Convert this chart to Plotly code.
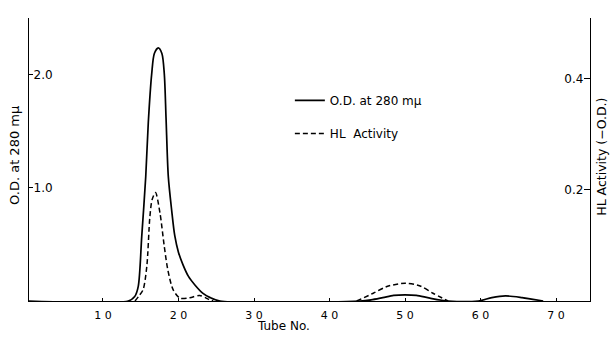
import plotly.graph_objects as go

# Optical density at 280 mμ (left axis)
od_tube = [0.2, 13.35, 14.2, 14.67, 15.13, 15.66, 16.0, 16.45, 16.8, 17.32, 17.8, 18.12, 18.35,
           18.65, 19.1, 19.5, 20.0, 20.6, 21.3, 22.2, 23.2, 24.2, 25.5, 44.0, 45.5, 47.06,
           48.5, 50.0, 51.5, 53.3, 55.7, 59.7, 61.5, 63.3, 65.5, 68.3]
od_val = [0, 0, 0.04, 0.13, 0.57, 1.10, 1.58, 2.01, 2.19, 2.24, 2.19, 2.01, 1.62,
          1.10, 0.80, 0.58, 0.43, 0.32, 0.22, 0.14, 0.07, 0.03, 0, 0, 0.01, 0.03,
          0.05, 0.055, 0.05, 0.025, 0, 0, 0.03, 0.045, 0.03, 0]

# HL activity (-O.D.) (right axis)
hl_tube = [14.24, 14.7, 15.3, 15.8, 16.2, 16.5, 16.95, 17.55, 18.1, 18.6, 19.3, 20.2,
           21.5, 22.8, 24.0, 24.6, None, 43.6, 45.8, 47.6, 50.0, 52.0, 53.7, 55.7]
hl_val = [0, 0.008, 0.02, 0.062, 0.15, 0.182, 0.195, 0.158, 0.10, 0.055, 0.02, 0.005,
          0.006, 0.01, 0.003, 0, None, 0, 0.014, 0.026, 0.032, 0.027, 0.014, 0]

x_ticks = [10, 20, 30, 40, 50, 60, 70]
x_ticktext = ["1 0", "2 0", "3 0", "4 0", "5 0", "6 0", "7 0"]
y_ticks = [1.0, 2.0]
y_ticktext = ["1.0", "2.0"]
y2_ticks = [0.2, 0.4]
y2_ticktext = ["0.2", "0.4"]

FONT = "DejaVu Sans"
BLACK = "black"

fig = go.Figure()
fig.add_trace(go.Scatter(
    x=od_tube, y=od_val, mode="lines", name="O.D. at 280 mμ",
    line=dict(color=BLACK, width=1.7, shape="spline", smoothing=0.8),
    legendgroup="a", yaxis="y"))
fig.add_trace(go.Scatter(
    x=hl_tube, y=hl_val, mode="lines", name="HL  Activity",
    line=dict(color=BLACK, width=1.5, dash="5px,3px", shape="spline", smoothing=0.8),
    legendgroup="b", yaxis="y2", connectgaps=False))

fig.update_layout(
    width=616, height=341,
    margin=dict(l=29, r=26, t=18, b=40),
    paper_bgcolor="white", plot_bgcolor="white",
    font=dict(family=FONT, size=11, color=BLACK),
    showlegend=True,
    legend=dict(x=0.465, y=0.76, xanchor="left", yanchor="top",
                font=dict(size=12, family=FONT, color=BLACK), tracegroupgap=14,
                bgcolor="rgba(0,0,0,0)"),
    xaxis=dict(range=[0.2, 74.5], tickvals=x_ticks, ticktext=x_ticktext,
               ticks="inside", ticklen=3, tickcolor=BLACK, showgrid=False,
               zeroline=False, showline=True, linecolor=BLACK, linewidth=1,
               ticklabelstandoff=4,
               tickfont=dict(size=11, color=BLACK)),
    yaxis=dict(range=[0, 2.504], tickvals=y_ticks, ticktext=y_ticktext,
               ticks="inside", ticklen=4, tickcolor=BLACK, showgrid=False,
               zeroline=False, showline=True, linecolor=BLACK, linewidth=1,
               ticklabelposition="inside", tickfont=dict(size=12, color=BLACK)),
    yaxis2=dict(range=[0, 0.509], tickvals=y2_ticks, ticktext=y2_ticktext,
                overlaying="y", side="right",
                ticks="inside", ticklen=6, tickcolor=BLACK, showgrid=False,
                zeroline=False, showline=True, linecolor=BLACK, linewidth=1,
                ticklabelposition="inside", tickfont=dict(size=12, color=BLACK)),
    annotations=[
        dict(text="O.D. at 280 mμ", x=-0.025, y=0.516, xref="paper", yref="paper",
             xanchor="center", yanchor="middle",
             textangle=-90, showarrow=False, font=dict(size=13, color=BLACK)),
        dict(text="HL Activity (−O.D.)", x=1.021, y=0.509, xref="paper", yref="paper",
             xanchor="center", yanchor="middle",
             textangle=-90, showarrow=False, font=dict(size=12.5, color=BLACK)),
        dict(text="Tube No.", x=0.453, y=-0.088, xref="paper", yref="paper",
             xanchor="center", yanchor="middle",
             showarrow=False, font=dict(size=12, color=BLACK)),
    ],
)

fig.write_html("out.html")
